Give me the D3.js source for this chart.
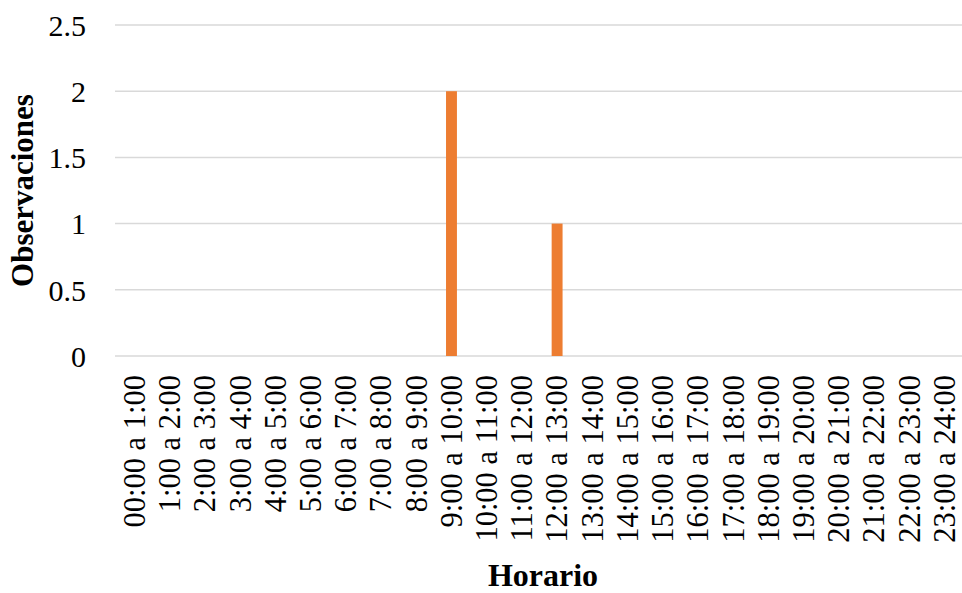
<!DOCTYPE html>
<html>
<head>
<meta charset="utf-8">
<script src="https://cdn.jsdelivr.net/npm/d3@7/dist/d3.min.js"></script>
<style>
  html, body { margin: 0; padding: 0; background: #fff; }
  svg { display: block; }
</style>
</head>
<body>
<svg id="chart" width="962" height="593"></svg>
<script>
const categories = ["00:00 a 1:00","1:00 a 2:00","2:00 a 3:00","3:00 a 4:00","4:00 a 5:00","5:00 a 6:00","6:00 a 7:00","7:00 a 8:00","8:00 a 9:00","9:00 a 10:00","10:00 a 11:00","11:00 a 12:00","12:00 a 13:00","13:00 a 14:00","14:00 a 15:00","15:00 a 16:00","16:00 a 17:00","17:00 a 18:00","18:00 a 19:00","19:00 a 20:00","20:00 a 21:00","21:00 a 22:00","22:00 a 23:00","23:00 a 24:00"];
const values = [0,0,0,0,0,0,0,0,0,2,0,0,1,0,0,0,0,0,0,0,0,0,0,0];
const yTicks = [0, 0.5, 1, 1.5, 2, 2.5];
const yTitle = "Observaciones";
const xTitle = "Horario";

(function () {
const svg = d3.select("#chart");
const font = "'Liberation Serif', 'Times New Roman', serif";
const pLeft = 117, pRight = 962, pTop = 25, pBottom = 356;

const x = d3.scaleBand().domain(categories).range([pLeft, pRight]).paddingInner(0.69).paddingOuter(0.345);
const y = d3.scaleLinear().domain([0, 2.5]).range([pBottom, pTop]);

// gridlines
svg.append("g").selectAll("line").data(yTicks).join("line")
  .attr("x1", 115).attr("x2", 962)
  .attr("y1", d => y(d)).attr("y2", d => y(d))
  .attr("stroke", "#d9d9d9").attr("stroke-width", 1.5);

// bars
svg.append("g").selectAll("rect").data(values.map((v, i) => ({c: categories[i], v})).filter(d => d.v > 0)).join("rect")
  .attr("x", d => x(d.c)).attr("width", x.bandwidth())
  .attr("y", d => y(d.v)).attr("height", d => y(0) - y(d.v))
  .attr("fill", "#ED7D31");

// y axis labels
const yAxis = d3.axisLeft(y).tickValues(yTicks).tickSize(0).tickPadding(0).tickFormat(d3.format("~g"));
const yg = svg.append("g").attr("transform", "translate(86,0)").call(yAxis);
yg.select(".domain").remove();
yg.selectAll("text").attr("font-family", font).attr("font-size", 30).attr("fill", "#000").attr("dy", "0.34em");

// x axis labels
const xAxis = d3.axisBottom(x).tickSize(0).tickPadding(0);
const xg = svg.append("g").attr("transform", `translate(0,${pBottom})`).call(xAxis);
xg.select(".domain").remove();
xg.selectAll("text")
  .attr("font-family", font).attr("font-size", 30.5).attr("fill", "#000")
  .attr("text-anchor", "end")
  .attr("transform", "translate(0,19) rotate(-90)")
  .attr("x", 0).attr("y", 0).attr("dy", "0.34em");

// titles
svg.append("text")
  .attr("transform", `translate(33,${(pTop + pBottom) / 2}) rotate(-90)`)
  .attr("text-anchor", "middle")
  .attr("font-family", font).attr("font-size", 31).attr("font-weight", "bold")
  .text(yTitle);

svg.append("text")
  .attr("x", 543).attr("y", 586)
  .attr("text-anchor", "middle")
  .attr("font-family", font).attr("font-size", 32).attr("font-weight", "bold")
  .text(xTitle);
})();
</script>
</body>
</html>
